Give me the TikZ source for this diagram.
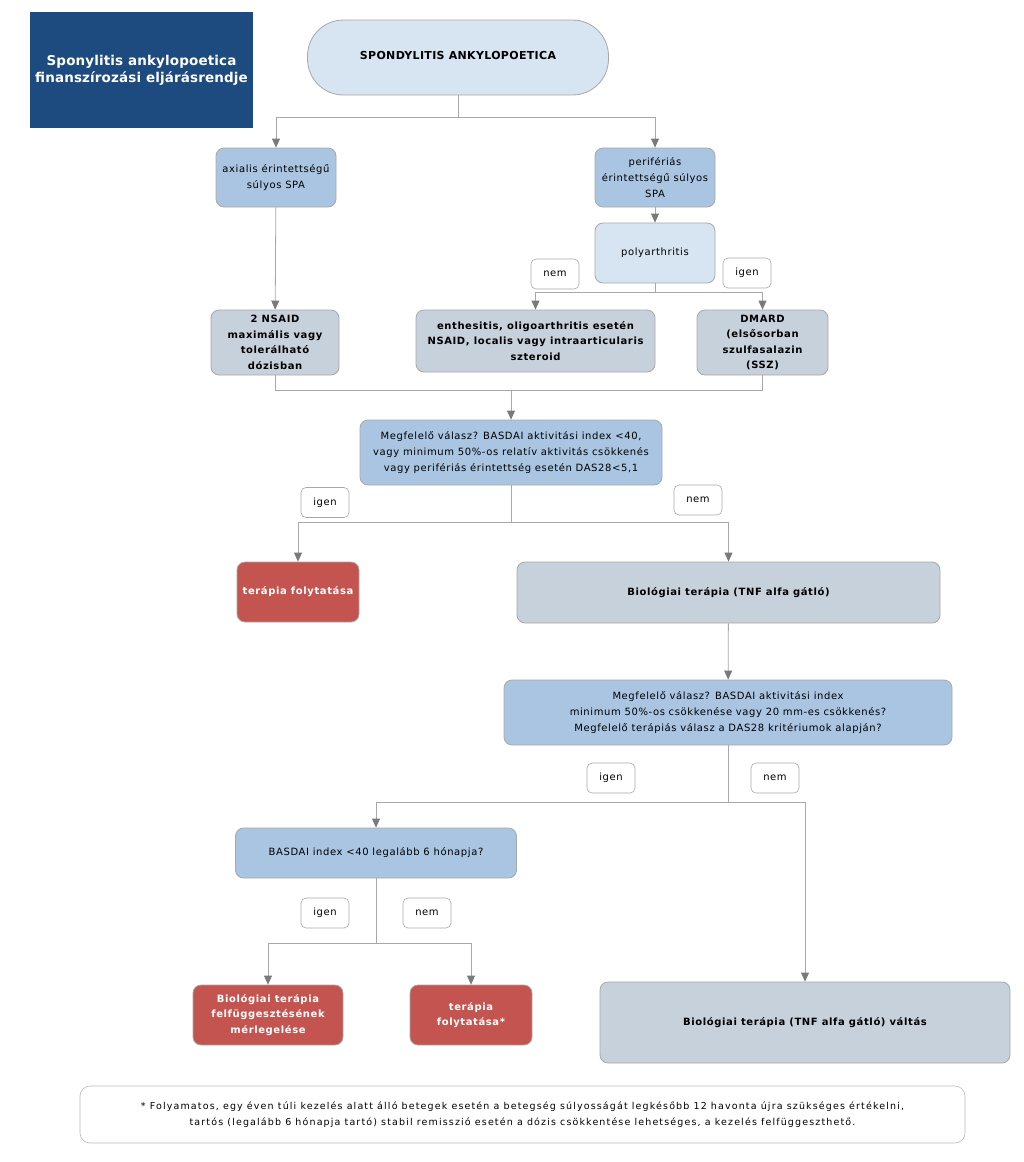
\documentclass[tikz,border=0pt]{standalone}
\usepackage{fontspec}
\setmainfont{DejaVu Sans}
\newfontfamily\bodyfont[LetterSpace=6]{DejaVu Sans}
\newfontfamily\startfont[LetterSpace=3]{DejaVu Sans}
\newfontfamily\titlefont[LetterSpace=1]{DejaVu Sans}
\newfontfamily\notefont[LetterSpace=12]{DejaVu Sans}
\usetikzlibrary{arrows.meta}
\definecolor{titleblue}{HTML}{1D4B7F}
\definecolor{paleblue}{HTML}{D7E4F1}
\definecolor{midblue}{HTML}{AAC5E1}
\definecolor{greyblue}{HTML}{C6D1DC}
\definecolor{redbox}{HTML}{C4544F}
\definecolor{edge}{HTML}{A8A8A8}
\definecolor{tip}{HTML}{7A7A7A}
\tikzset{
  box/.style={draw=edge, line width=0.8pt, rounded corners=8pt, align=center,
    font=\bodyfont\fontsize{10}{16}\selectfont, inner sep=2pt},
  pale/.style={box, fill=paleblue},
  mid/.style={box, fill=midblue},
  grey/.style={box, fill=greyblue, font=\bodyfont\fontsize{10}{15.5}\bfseries},
  red/.style={box, fill=redbox, text=white, font=\bodyfont\fontsize{10}{15.5}\bfseries},
  tag/.style={draw=edge, line width=0.6pt, fill=white, rounded corners=5pt,
    minimum width=48pt, minimum height=30pt, font=\bodyfont\fontsize{10}{12}\selectfont},
  link/.style={draw=edge, line width=0.8pt},
  arr/.style={link, -{Triangle[width=8pt,length=9pt,color=tip]}}
}
\begin{document}
\begin{tikzpicture}[x=1pt,y=-1pt]
  \useasboundingbox (0,0) rectangle (1023,1162);
  % title and start
  \node[fill=titleblue, text=white, align=center, minimum width=223pt, minimum height=116pt,
    inner sep=1pt, font=\titlefont\fontsize{13.5}{17}\bfseries] (title) at (141.5,70)
    {Sponylitis ankylopoetica\\finanszírozási eljárásrendje};
  \node[pale, rounded corners=36pt, minimum width=301pt, minimum height=75pt,
    font=\startfont\fontsize{11}{13}\bfseries] (start) at (458,57.5)
    {\raisebox{5pt}{SPONDYLITIS ANKYLOPOETICA}};
  % first level
  \node[mid, minimum width=120pt, minimum height=59pt] (axial) at (276,177.5)
    {axialis érintettségű\\súlyos SPA};
  \node[mid, minimum width=120pt, minimum height=59pt] (perif) at (655,177.5)
    {perifériás\\érintettségű súlyos\\SPA};
  \node[pale, minimum width=120pt, minimum height=60pt] (poly) at (655,253) {polyarthritis};
  % treatments
  \node[grey, minimum width=128pt, minimum height=65pt] (nsaid) at (275,342.5)
    {2 NSAID\\maximális vagy\\tolerálható\\dózisban};
  \node[grey, minimum width=239pt, minimum height=62pt] (enth) at (535.5,341)
    {enthesitis, oligoarthritis esetén\\NSAID, localis vagy intraarticularis\\szteroid};
  \node[grey, minimum width=131pt, minimum height=65pt] (dmard) at (762.5,342.5)
    {DMARD\\(elsősorban\\szulfasalazin\\(SSZ)};
  % first check
  \node[mid, minimum width=302pt, minimum height=65pt] (q1) at (511,452.5)
    {Megfelelő válasz? BASDAI aktivitási index <40,\\vagy minimum 50\%-os relatív aktivitás csökkenés\\vagy perifériás érintettség esetén DAS28<5,1};
  \node[red, minimum width=122pt, minimum height=60pt] (cont1) at (298,592) {terápia folytatása};
  \node[grey, minimum width=423pt, minimum height=61pt] (bio) at (728.5,592.5)
    {Biológiai terápia (TNF alfa gátló)};
  % second check
  \node[mid, minimum width=448pt, minimum height=65pt] (q2) at (728,712.5)
    {Megfelelő válasz? BASDAI aktivitási index\\minimum 50\%-os csökkenése vagy 20 mm-es csökkenés?\\Megfelelő terápiás válasz a DAS28 kritériumok alapján?};
  \node[mid, minimum width=281pt, minimum height=50pt] (basdai) at (376,853)
    {BASDAI index <40 legalább 6 hónapja?};
  \node[red, minimum width=150pt, minimum height=60pt] (stop) at (268,1015)
    {Biológiai terápia\\felfüggesztésének\\mérlegelése};
  \node[red, minimum width=122pt, minimum height=60pt] (cont2) at (471,1015)
    {terápia\\folytatása*};
  \node[grey, minimum width=410pt, minimum height=81pt] (switch) at (805,1022.5)
    {Biológiai terápia (TNF alfa gátló) váltás};
  % footnote
  \node[draw=edge!80, line width=0.6pt, rounded corners=10pt, align=center,
    minimum width=885pt, minimum height=57pt, font=\notefont\fontsize{9.5}{16}\selectfont] (note) at (522.5,1114.5)
    {* Folyamatos, egy éven túli kezelés alatt álló betegek esetén a betegség súlyosságát legkésőbb 12 havonta újra szükséges értékelni,\\tartós (legalább 6 hónapja tartó) stabil remisszió esetén a dózis csökkentése lehetséges, a kezelés felfüggeszthető.};
  % yes / no tags
  \node[tag] (t1) at (555,274) {nem};
  \node[tag] (t2) at (747,273) {igen};
  \node[tag] (t3) at (325,502.5) {igen};
  \node[tag] (t4) at (698,500) {nem};
  \node[tag] (t5) at (611,778) {igen};
  \node[tag] (t6) at (775,778) {nem};
  \node[tag] (t7) at (325,913) {igen};
  \node[tag] (t8) at (427,913) {nem};
  % junctions
  \coordinate (j1) at (458,117);
  \coordinate (j2) at (655,292);
  \coordinate (j3) at (511,390);
  \coordinate (j4) at (511,522);
  \coordinate (j5) at (728,802);
  \coordinate (j6) at (376,943);
  \draw[link] (start) -- (j1);
  \draw[arr] (j1) -| (axial);
  \draw[arr] (j1) -| (perif);
  \draw[arr] (perif) -- (poly);
  \draw[link] (poly) -- (j2);
  \draw[arr] (j2) -| (enth);
  \draw[arr] (j2) -| (dmard);
  \draw[arr] (axial) -- (nsaid);
  \draw[link] (nsaid) |- (j3);
  \draw[link] (dmard) |- (j3);
  \draw[arr] (j3) -- (q1);
  \draw[link] (q1) -- (j4);
  \draw[arr] (j4) -| (cont1);
  \draw[arr] (j4) -| (bio);
  \draw[arr] (bio) -- (q2);
  \draw[link] (q2) -- (j5);
  \draw[arr] (j5) -| (basdai);
  \draw[arr] (j5) -| (switch);
  \draw[link] (basdai) -- (j6);
  \draw[arr] (j6) -| (stop);
  \draw[arr] (j6) -| (cont2);
\end{tikzpicture}
\end{document}
